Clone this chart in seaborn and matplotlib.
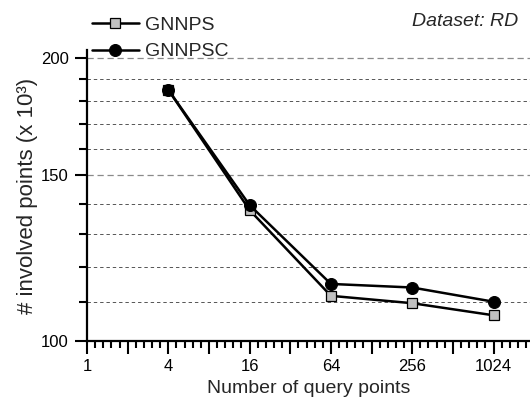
import numpy as np
import pandas as pd
import matplotlib
matplotlib.use("Agg")
import matplotlib.pyplot as plt
from matplotlib.ticker import FixedLocator, NullFormatter, FixedFormatter
import seaborn as sns

# Query counts and involved points (thousands)
query_points = [4, 16, 64, 256, 1024]
gnnps = [185.0, 137.8, 111.7, 109.7, 106.5]
gnnpsc = [185.0, 139.5, 115.0, 114.0, 110.1]
series_names = ["GNNPS", "GNNPSC"]

x_tick_values = [1, 4, 16, 64, 256, 1024]
y_tick_values = [100, 150, 200]
y_minor_values = [110, 120, 130, 140, 160, 170, 180, 190]

sns.set_style("white")
plt.rcParams["font.family"] = ["Liberation Sans", "DejaVu Sans"]
plt.rcParams["font.size"] = 12
plt.rcParams.update({
    "xtick.bottom": True, "ytick.left": True,
    "ytick.minor.left": True, "ytick.minor.visible": True,
    "xtick.direction": "out", "ytick.direction": "out",
    "xtick.major.size": 9, "ytick.major.size": 9,
    "ytick.minor.size": 5.5,
    "xtick.major.width": 1.5, "ytick.major.width": 1.5,
    "ytick.minor.width": 1.5,
    "xtick.color": "black", "ytick.color": "black",
})

df = pd.DataFrame({
    "queries": query_points * 2,
    "points": gnnps + gnnpsc,
    "method": [series_names[0]] * len(query_points) + [series_names[1]] * len(query_points),
})

fig = plt.figure(figsize=(5.3, 4.03), dpi=100)
ax = fig.add_axes([87 / 530, 62 / 403, 443 / 530, 291 / 403])

sns.lineplot(data=df[df.method == "GNNPS"], x="queries", y="points", ax=ax,
             color="black", lw=1.8, marker="s", markersize=7.2,
             markerfacecolor="#c0c0c0", markeredgecolor="black",
             markeredgewidth=0.9, label="GNNPS", zorder=3)
sns.lineplot(data=df[df.method == "GNNPSC"], x="queries", y="points", ax=ax,
             color="black", lw=1.8, marker="o", markersize=8.6,
             markerfacecolor="black", markeredgecolor="black",
             label="GNNPSC", zorder=4)

# log-4 x axis
ax.set_xscale("log", base=2)
ax.set_yscale("log")
ax.set_xlim(1, 4 ** (443 / 81.3))
ax.set_ylim(100, 100 * 2 ** (291 / 283))

# x ticks: tenths of each power-of-four step; long ticks at powers of two,
# labels only at powers of four
steps = [k + j / 10 for k in range(0, 6) for j in range(0, 10)]
x_locs = [4 ** s for s in steps]
x_long = [abs(s * 2 - round(s * 2)) < 1e-9 for s in steps]
x_lbls = []
for s, v in zip(steps, x_locs):
    if abs(s - round(s)) < 1e-9 and round(v) in x_tick_values:
        x_lbls.append(str(int(round(v))))
    else:
        x_lbls.append("")
ax.xaxis.set_major_locator(FixedLocator(x_locs))
ax.xaxis.set_major_formatter(FixedFormatter(x_lbls))
ax.xaxis.set_minor_locator(FixedLocator([]))
ax.tick_params(axis="x", which="major", pad=4, labelsize=12)
for tick, is_long in zip(ax.xaxis.get_major_ticks(), x_long):
    tick.tick1line.set_markersize(9 if is_long else 5)

ax.yaxis.set_major_locator(FixedLocator(y_tick_values))
ax.yaxis.set_major_formatter(FixedFormatter([str(v) for v in y_tick_values]))
ax.yaxis.set_minor_locator(FixedLocator(y_minor_values))
ax.yaxis.set_minor_formatter(NullFormatter())
ax.tick_params(axis="y", which="major", labelsize=12, pad=4)

for side in ["top", "right"]:
    ax.spines[side].set_visible(False)
for side in ["left", "bottom"]:
    ax.spines[side].set_linewidth(1.6)
    ax.spines[side].set_color("black")

ax.grid(False)
ax.yaxis.grid(True, which="major", linestyle=(0, (5, 3)), color="#8a8a8a", lw=0.9)
ax.yaxis.grid(True, which="minor", linestyle=(0, (3.5, 3)), color="#555555", lw=0.7)
ax.set_axisbelow(True)

ax.set_xlabel("Number of query points", fontsize=14, labelpad=4)
ax.set_ylabel("# involved points (x 10\u00b3)", fontsize=16, labelpad=2)

ax.legend(loc="upper left", bbox_to_anchor=(92 / 530, 1 - 16 / 403),
          bbox_transform=fig.transFigure, frameon=False, fontsize=14,
          handlelength=2.4, handletextpad=0.35, labelspacing=0.47,
          borderaxespad=0, borderpad=0)

fig.text(518 / 530, 1 - 21 / 403, "Dataset: RD", ha="right", va="center",
         fontsize=14, style="italic")

fig.savefig("out.png", dpi=100)
